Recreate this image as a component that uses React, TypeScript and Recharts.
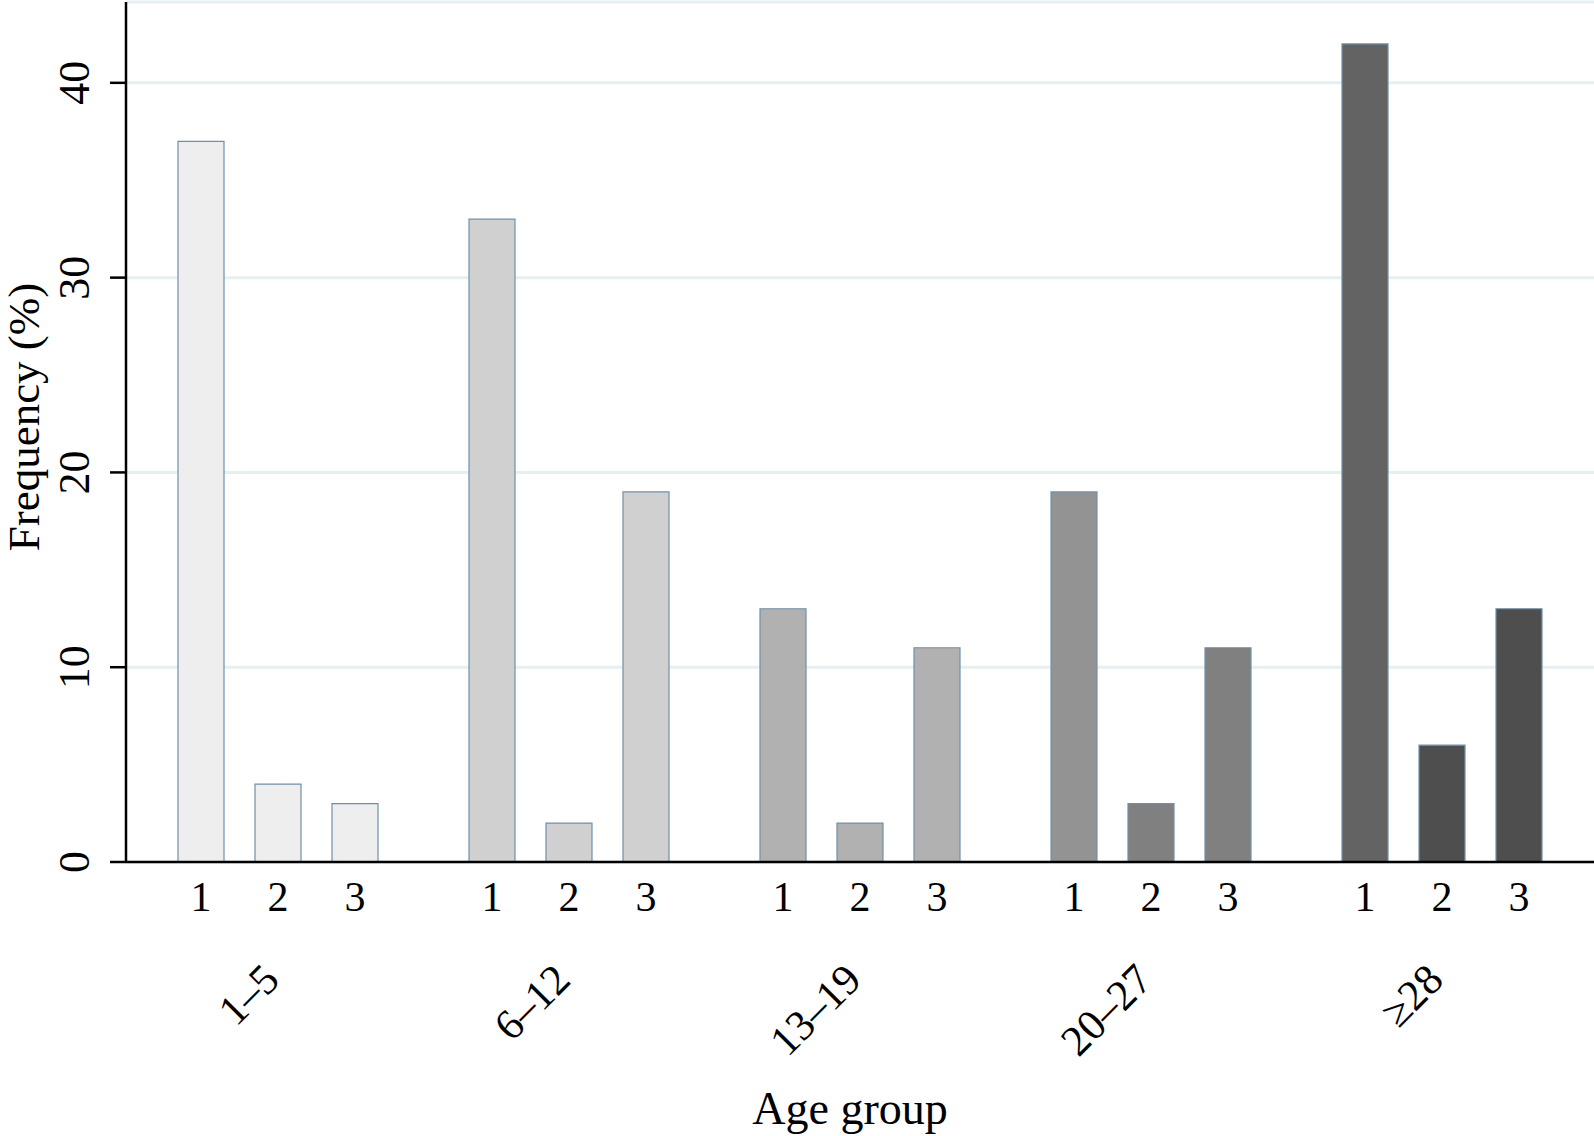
import { Bar, BarChart, CartesianGrid, Cell, LabelList, XAxis, YAxis } from 'recharts';

// age groups on the x axis, three sub-bars per group
const groups = ['1–5', '6–12', '13–19', '20–27', '≥28'];
const subLabels = ['1', '2', '3'];
const values1 = [37, 33, 13, 19, 42];
const values2 = [4, 2, 2, 3, 6];
const values3 = [3, 19, 11, 11, 13];
const yTicks = [0, 10, 20, 30, 40];

const fills1 = ['#eeeeee', '#d0d0d0', '#b1b1b1', '#939393', '#636363'];
const fills23 = ['#eeeeee', '#d0d0d0', '#b1b1b1', '#808080', '#4e4e4e'];

const data = groups.map((g, i) => ({
  group: g,
  s1: values1[i],
  s2: values2[i],
  s3: values3[i],
}));

const FONT = '"Liberation Serif", "Times New Roman", serif';
const EDGE = '#7090a8';

function YTick({ x, y, payload }: any) {
  return (
    <text
      x={x}
      y={y}
      transform={`rotate(-90 ${x} ${y})`}
      textAnchor="middle"
      fontSize={44}
      fontFamily={FONT}
      fill="#000"
    >
      {payload.value}
    </text>
  );
}

function GroupTick({ x, y, payload }: any) {
  return (
    <text
      x={x + 4}
      y={y}
      transform={`rotate(-45 ${x + 4} ${y})`}
      textAnchor="end"
      fontSize={43}
      fontFamily={FONT}
      fill="#000"
    >
      {payload.value}
    </text>
  );
}

function YTitle({ viewBox }: any) {
  const cx = 39;
  const cy = viewBox.y + viewBox.height / 2 - 15;
  return (
    <text
      x={cx}
      y={cy}
      transform={`rotate(-90 ${cx} ${cy})`}
      textAnchor="middle"
      fontSize={45}
      fontFamily={FONT}
      fill="#000"
    >
      Frequency (%)
    </text>
  );
}

function XTitle({ viewBox }: any) {
  return (
    <text
      x={viewBox.x + viewBox.width / 2 - 10}
      y={1124}
      textAnchor="middle"
      fontSize={46}
      fontFamily={FONT}
      fill="#000"
    >
      Age group
    </text>
  );
}

export default function App() {
  const series = [
    { key: 's1', fills: fills1, label: subLabels[0] },
    { key: 's2', fills: fills23, label: subLabels[1] },
    { key: 's3', fills: fills23, label: subLabels[2] },
  ];

  return (
    <div style={{ position: 'absolute', left: 0, top: 0, background: '#fff' }}>
      <BarChart
        width={1594}
        height={1136}
        data={data}
        margin={{ top: 2, right: 0, bottom: 0, left: 0 }}
        barSize={46}
        barGap={31}
        style={{ fontFamily: FONT }}
      >
        <CartesianGrid vertical={false} stroke="#e6f0f3" strokeWidth={3} />
        <XAxis
          dataKey="group"
          height={274}
          padding={{ left: 6, right: 7 }}
          axisLine={{ stroke: '#000', strokeWidth: 2.5 }}
          tickLine={false}
          tickSize={0}
          tickMargin={120}
          interval={0}
          tick={<GroupTick />}
          label={{ content: <XTitle /> }}
        />
        <YAxis
          width={126}
          domain={[0, 44.15]}
          ticks={yTicks}
          interval={0}
          axisLine={{ stroke: '#000', strokeWidth: 2.5 }}
          tickLine={{ stroke: '#000', strokeWidth: 2.5 }}
          tickSize={16}
          tickMargin={21}
          tick={<YTick />}
          label={{ content: <YTitle /> }}
        />
        {series.map((s) => (
          <Bar key={s.key} dataKey={s.key} stroke={EDGE} strokeWidth={1.2} isAnimationActive={false}>
            {data.map((d, i) => (
              <Cell key={d.group} fill={s.fills[i]} />
            ))}
            <LabelList
              dataKey={s.key}
              position="bottom"
              offset={19}
              formatter={() => s.label}
              fontSize={42}
              fontFamily={FONT}
              fill="#000"
            />
          </Bar>
        ))}
      </BarChart>
    </div>
  );
}
